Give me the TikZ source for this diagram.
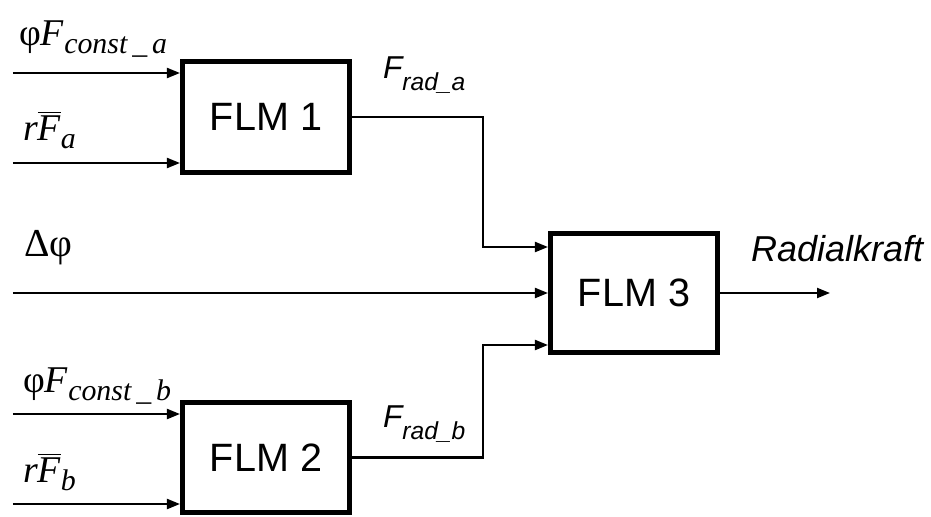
\documentclass[tikz,border=0pt]{standalone}
\usepackage{fontspec}
\newfontfamily\tnr{Liberation Serif}
\newfontfamily\arial{Liberation Sans}
\usetikzlibrary{arrows.meta, positioning}

\newcommand{\dn}[1]{\raisebox{-0.17cm}{\fontsize{17}{19}\selectfont\itshape #1}}
\newcommand{\sdn}[1]{\raisebox{-0.24cm}{\fontsize{14}{16}\selectfont #1}}

\begin{document}
\begin{tikzpicture}[->, >={Triangle[length=2.6mm, width=2mm]}, line width=1.2pt,
    flm/.style={draw, -, line width=2.6pt, minimum width=3.35cm, minimum height=2.21cm,
        font=\arial\fontsize{22.5}{26}\selectfont},
    lbl/.style={anchor=base west, inner sep=0pt, font=\tnr\fontsize{21.5}{25}\selectfont},
    sig/.style={anchor=base west, inner sep=0pt, font=\arial\itshape\fontsize{18}{22}\selectfont}]
    \useasboundingbox (0,0) rectangle (18.62,10.32);

    \node[flm] (flm1) at (5.32,7.98) {FLM 1};
    \node[flm] (flm2) at (5.32,1.17) {FLM 2};
    \node[flm, minimum height=2.39cm] (flm3) at (12.68,4.46) {FLM 3};

    % inputs
    \node[lbl] (phia) at (0.36,9.42) {φ\textit{F}\dn{const\,\_\,a}};
    \node[lbl] (rfa) at (0.44,7.52) {\textit{r}$\overline{\hbox{\itshape F}}$\dn{a}};
    \node[lbl, font=\tnr\fontsize{22.5}{26}\selectfont] (dphi) at (0.46,5.20) {Δφ};
    \node[lbl] (phib) at (0.44,2.48) {φ\textit{F}\dn{const\,\_\,b}};
    \node[lbl] (rfb) at (0.44,0.68) {\textit{r}$\overline{\hbox{\itshape F}}$\dn{b}};

    \node[sig] (frada) at (7.64,8.76) {F\sdn{rad\_a}};
    \node[sig] (fradb) at (7.64,1.78) {F\sdn{rad\_b}};
    \node[sig, font=\arial\itshape\fontsize{20.5}{24}\selectfont] (rk) at (15.0,5.10) {Radialkraft};

    \coordinate (ina1) at (0.26,8.86);
    \coordinate (ina2) at (0.26,7.06);
    \coordinate (inb1) at (0.26,2.04);
    \coordinate (inb2) at (0.26,0.24);
    \coordinate (inc) at (0.26,4.46);
    \coordinate (ka) at (9.66,5.38);
    \coordinate (kb) at (9.66,3.42);
    \coordinate (out) at (16.6,4.46);

    \draw (ina1) -- (ina1 -| flm1.west);
    \draw (ina2) -- (ina2 -| flm1.west);
    \draw (inb1) -- (inb1 -| flm2.west);
    \draw (inb2) -- (inb2 -| flm2.west);
    \draw (inc) -- (flm3.west);
    \draw (flm1.east) -| (ka) -- (ka -| flm3.west);
    \draw (flm2.east) -| (kb) -- (kb -| flm3.west);
    \draw (flm3.east) -- (out);
\end{tikzpicture}
\end{document}
